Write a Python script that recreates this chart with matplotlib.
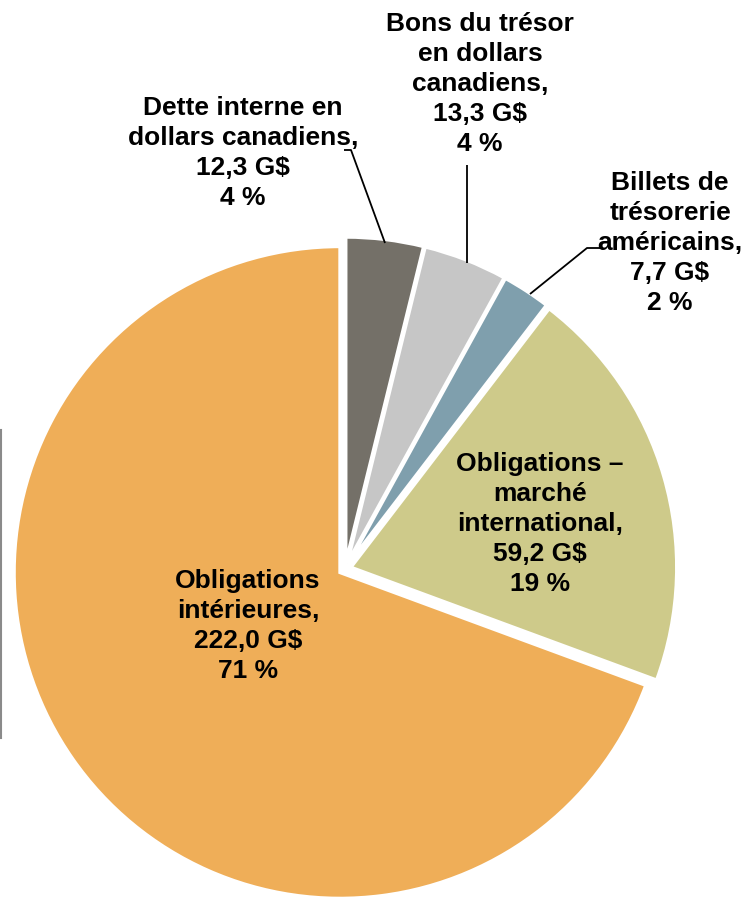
import matplotlib
matplotlib.use("Agg")
import matplotlib.pyplot as plt
from matplotlib.lines import Line2D

plt.rcParams['font.family'] = ['Liberation Sans', 'DejaVu Sans']

# debt composition (clockwise from 12 o'clock)
categories = ["Dette interne en\ndollars canadiens,",
              "Bons du trésor\nen dollars\ncanadiens,",
              "Billets de\ntrésorerie\naméricains,",
              "Obligations –\nmarché\ninternational,",
              "Obligations\nintérieures,"]
value_labels = ["12,3 G$", "13,3 G$", "7,7 G$", "59,2 G$", "222,0 G$"]
pct_labels = ["4 %", "4 %", "2 %", "19 %", "71 %"]
# wedge sizes as drawn in the picture (G$); the international slice is drawn wider than its label
slice_values = [12.3, 13.3, 7.7, 64.7, 222.0]
colors = ["#747068", "#C6C6C6", "#7F9FAD", "#CECA8A", "#EFAE58"]

W, H = 749, 897
cx, cy, R = 345, 569, 326   # pie centre and radius in pixels


def px(x, y):
    return ((x - cx) / R, (cy - y) / R)


fig = plt.figure(figsize=(W / 100, H / 100), dpi=100)
ax = fig.add_axes([0, 0, 1, 1])
ax.pie(slice_values, colors=colors, startangle=90, counterclock=False,
       explode=[0.0185] * 5, radius=1.0,
       wedgeprops=dict(edgecolor="white", linewidth=2.5))
ax.set_aspect('auto')
ax.set_xlim(-cx / R, (W - cx) / R)
ax.set_ylim(-(H - cy) / R, cy / R)
ax.axis('off')

# label block centres in pixels
label_pos = [(243, 153), (480, 84), (670, 243), (540, 524), (248, 626)]
for i, (lx, ly) in enumerate(label_pos):
    txt = categories[i] + "\n" + value_labels[i] + "\n" + pct_labels[i]
    ax.text(*px(lx, ly), txt, ha='center', va='center', fontsize=19,
            fontweight='bold', color='black', linespacing=1.32)

# leader lines
leaders = [
    [(344, 150), (351, 150), (385, 243)],
    [(467, 165), (467, 263)],
    [(602, 248), (587, 248), (530, 294)],
]
for pts in leaders:
    xs, ys = zip(*[px(x, y) for x, y in pts])
    ax.plot(xs, ys, color='black', linewidth=1.3, solid_capstyle='butt')

# thin gray edge on the left
fig.add_artist(Line2D([1 / W, 1 / W], [1 - 430 / H, 1 - 738 / H],
                      transform=fig.transFigure, color='#8A8A8A', linewidth=1.5))

fig.savefig("out.png", dpi=100)
